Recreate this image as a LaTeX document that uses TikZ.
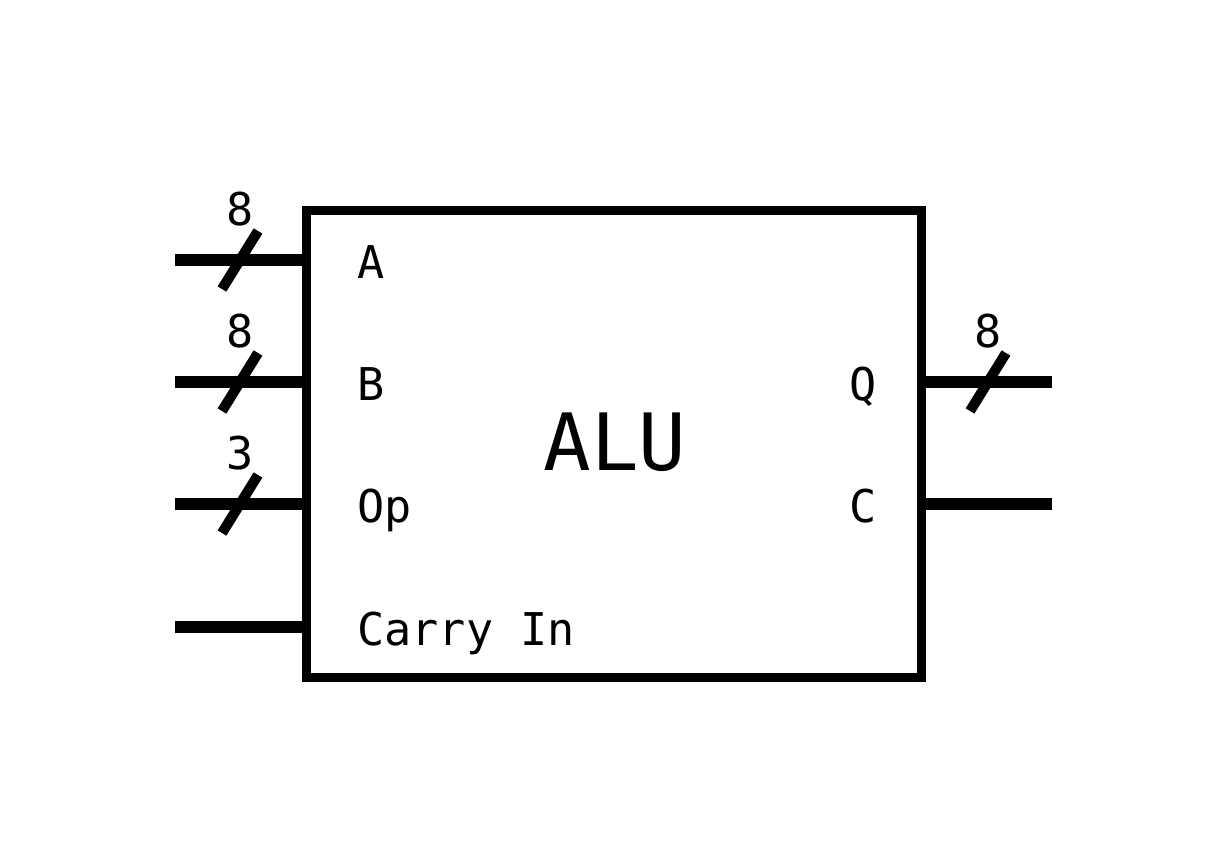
\documentclass[tikz,border=0pt]{standalone}
\usepackage{fontspec}
\setmonofont{DejaVu Sans Mono}
\usepackage{tikz}
\usetikzlibrary{positioning,calc}
\tikzset{
  alu-box/.style={draw,line width=4.8pt,minimum width=12.3cm,minimum height=9.35cm},
  alu-title/.style={font=\ttfamily\fontsize{45}{45}\selectfont,inner sep=0pt},
  pin-label/.style={font=\ttfamily\fontsize{25.7}{26}\selectfont,inner sep=0pt},
  wire/.style={line width=6.6pt},
  bus-slash/.style={line width=5.8pt},
}
\begin{document}
\begin{tikzpicture}[x=0.02cm,y=-0.02cm]
  \useasboundingbox (0,0) rectangle (1220,859);
  \node[alu-box] (alu) at (614,444) {};
  \node[alu-title] (title) at (615,442) {ALU};
  % input pins
  \foreach \name/\py/\txt in {a/260/A, b/382/B, op/504/Op, cin/627/Carry In} {
    \coordinate (in-\name) at (175,\py);
    \node[pin-label,anchor=base west] (lbl-\name) at (357,\py+18) {\txt};
    \draw[wire] (in-\name) -- (in-\name -| alu.west);
  }
  % output pins
  \foreach \name/\py/\txt in {q/382/Q, c/504/C} {
    \coordinate (out-\name) at (1052,\py);
    \node[pin-label,anchor=base east] (lbl-\name) at (877,\py+18) {\txt};
    \draw[wire] (out-\name -| alu.east) -- (out-\name);
  }
  % bus widths
  \foreach \px/\py/\w [count=\i] in {240/260/8, 240/382/8, 240/504/3, 988/382/8} {
    \draw[bus-slash] (\px-18,\py+29) -- (\px+18,\py-29);
    \node[pin-label,anchor=base] (width-\i) at (\px,\py-35) {\w};
  }
\end{tikzpicture}
\end{document}
